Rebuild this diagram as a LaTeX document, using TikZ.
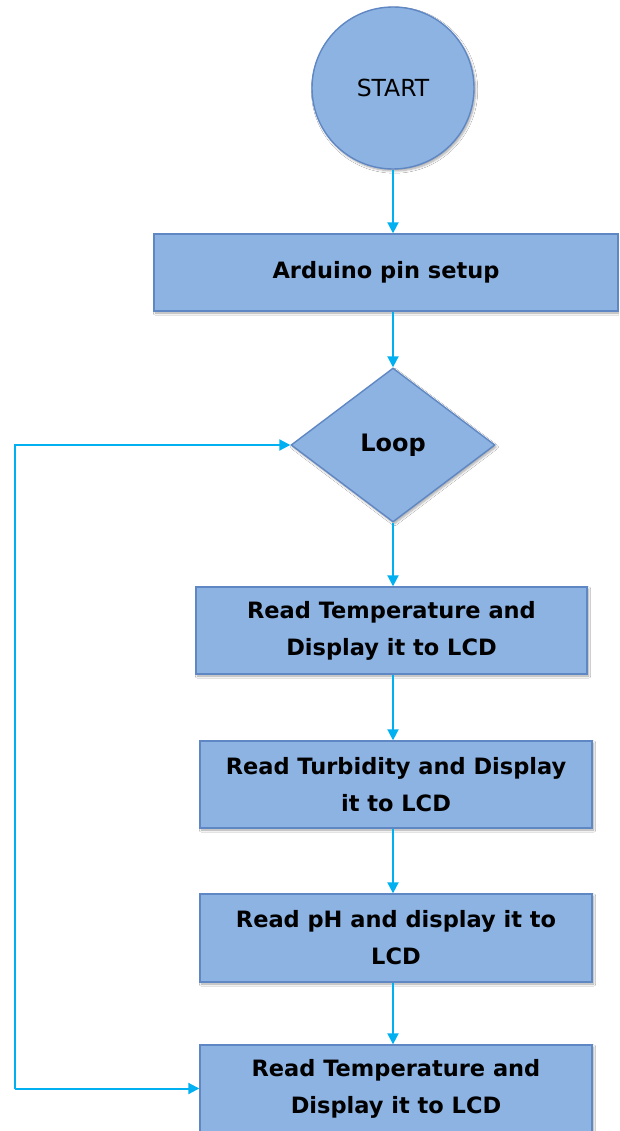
\documentclass[tikz,border=0pt]{standalone}
\usepackage{fontspec}
\setmainfont{DejaVu Sans}
\usetikzlibrary{shapes.geometric,arrows.meta,shadows.blur}
\definecolor{boxfill}{HTML}{8DB3E2}
\definecolor{boxedge}{HTML}{5F87C3}
\definecolor{flowline}{HTML}{00B0F0}
\tikzset{
  shade/.style={blur shadow={shadow xshift=1.5pt, shadow yshift=-2pt, shadow blur steps=6, shadow opacity=35}},
  stepbox/.style={shade, rectangle, draw=boxedge, line width=1.4pt, fill=boxfill, inner sep=0pt,
    align=center, font=\fontsize{22.5}{37}\selectfont\bfseries},
  startnode/.style={shade, circle, draw=boxedge, line width=1.4pt, fill=boxfill, inner sep=0pt,
    minimum size=162pt, font=\fontsize{23.5}{28}\selectfont},
  decision/.style={shade, diamond, draw=boxedge, line width=1.4pt, fill=boxfill, inner sep=0pt,
    minimum width=204pt, minimum height=154pt, font=\fontsize{24}{28}\selectfont\bfseries},
  flow/.style={draw=flowline, line width=2pt, -{Triangle[length=11pt,width=11pt]}}
}
\begin{document}
\begin{tikzpicture}[x=1pt, y=-1pt]
  \useasboundingbox (0,0) rectangle (619,1131);
  \clip (0,0) rectangle (619,1131);
  \fill[white] (0,0) rectangle (619,1131);

  % process nodes
  \node[startnode] (start) at (393,88) {START};
  \node[stepbox, minimum width=464pt, minimum height=77pt] (setup) at (386,272.5) {Arduino pin setup};
  \node[decision] (loop) at (393,445) {Loop};
  \node[stepbox, minimum width=391pt, minimum height=87pt] (temp) at (391.5,630.5)
    {Read Temperature and\\Display it to LCD};
  \node[stepbox, minimum width=392pt, minimum height=87pt] (turb) at (396,784.5)
    {Read Turbidity and Display\\it to LCD};
  \node[stepbox, minimum width=392pt, minimum height=88pt] (ph) at (396,938)
    {Read pH and display it to\\LCD};
  \node[stepbox, minimum width=392pt, minimum height=87pt] (tempb) at (396,1088.5)
    {Read Temperature and\\Display it to LCD};

  % main flow
  \draw[flow] (start.south) -- (start.south |- setup.north);
  \draw[flow] (loop.north |- setup.south) -- (loop.north);
  \draw[flow] (loop.south) -- (loop.south |- temp.north);
  \draw[flow] (loop.south |- temp.south) -- (loop.south |- turb.north);
  \draw[flow] (loop.south |- turb.south) -- (loop.south |- ph.north);
  \draw[flow] (loop.south |- ph.south) -- (loop.south |- tempb.north);

  % return rail on the left
  \coordinate (rail) at (15,0);
  \draw[flow] (rail |- tempb.west) -- (tempb.west);
  \draw[flow] (rail |- tempb.west) -- (rail |- loop.west) -- (loop.west);
\end{tikzpicture}
\end{document}
